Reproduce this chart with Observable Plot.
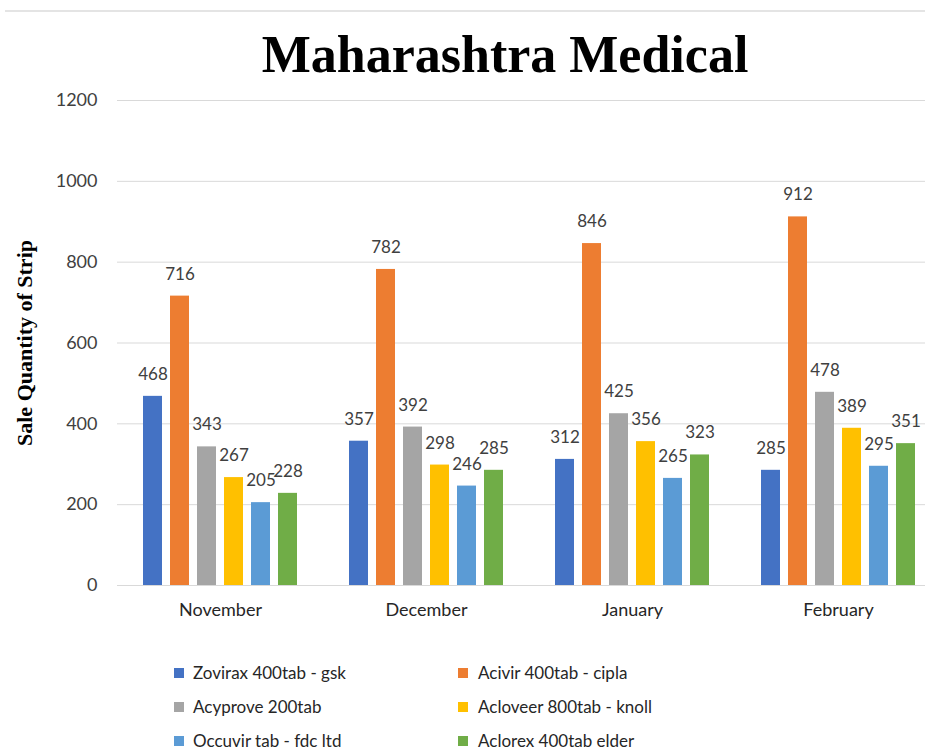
<!DOCTYPE html>
<html>
<head>
<meta charset="utf-8">
<script src="https://cdn.jsdelivr.net/npm/d3@7"></script>
<script src="https://cdn.jsdelivr.net/npm/@observablehq/plot@0.6"></script>
<style>
  html, body { margin: 0; padding: 0; background: #fff; overflow: hidden; width: 925px; height: 751px; }
  #topline { position: absolute; left: 5px; top: 10px; width: 920px; height: 0; border-top: 2px solid #e4e4e4; }
  #title { position: absolute; left: 0; top: 29px; width: 1010px; text-align: center;
           font: bold 52px/52px "Liberation Serif", "Times New Roman", serif; color: #000; }
  #chart { position: absolute; left: 0; top: 80px; width: 941px; }
  #chart svg { overflow: visible; max-width: none !important; }
  #chart g[aria-label="y-axis label"] text { font: bold 22px "Liberation Serif", serif; fill: #000; }
  .legend { position: absolute; left: 0; top: 0; width: 925px; font: 17px Lato, sans-serif; color: #262626; }
  .legend .sw { position: absolute; width: 10px; height: 10px; }
  .legend .lbl { position: absolute; white-space: nowrap; }
</style>
</head>
<body>
<div id="topline"></div>
<div id="title">Maharashtra Medical</div>
<div id="chart"></div>
<div id="legend" class="legend"></div>
<script>
const months = ["November", "December", "January", "February"];
const seriesNames = [
  "Zovirax 400tab - gsk",
  "Acivir 400tab - cipla",
  "Acyprove 200tab",
  "Acloveer 800tab - knoll",
  "Occuvir tab - fdc ltd",
  "Aclorex 400tab elder"
];
const zovirax  = [468, 357, 312, 285];
const acivir   = [716, 782, 846, 912];
const acyprove = [343, 392, 425, 478];
const acloveer = [267, 298, 356, 389];
const occuvir  = [205, 246, 265, 295];
const aclorex  = [228, 285, 323, 351];
const yTicks = [0, 200, 400, 600, 800, 1000, 1200];
const colors = ["#4472C4", "#ED7D31", "#A5A5A5", "#FFC000", "#5B9BD5", "#70AD47"];

const seriesValues = [zovirax, acivir, acyprove, acloveer, occuvir, aclorex];
const data = [];
months.forEach((m, i) => {
  seriesNames.forEach((s, j) => {
    data.push({month: m, series: s, value: seriesValues[j][i]});
  });
});

const chart = Plot.plot({
  width: 941,
  height: 540,
  marginLeft: 117,
  marginRight: 0,
  marginTop: 20,
  marginBottom: 35,
  style: {fontFamily: "Lato, sans-serif", color: "#404040", background: "transparent", maxWidth: "none"},
  fx: {domain: months, padding: 0, label: null},
  x: {domain: seriesNames, paddingInner: 0.29, paddingOuter: 0.87, axis: null},
  y: {domain: [0, 1200]},
  color: {domain: seriesNames, range: colors},
  marks: [
    Plot.gridY(yTicks, {stroke: "#d9d9d9", strokeOpacity: 1}),
    Plot.axisY(yTicks, {tickSize: 0, tickPadding: 20, fontSize: 18, fill: "#404040",
      tickFormat: d => String(d),
      label: "Sale Quantity of Strip", labelAnchor: "center", labelArrow: "none", labelOffset: 101}),
    Plot.axisFx({anchor: "bottom", tickSize: 0, tickPadding: 18, fontSize: 18, fill: "#262626", label: null}),
    Plot.barY(data, {fx: "month", x: "series", y: "value", fill: "series"}),
    Plot.text(data, {fx: "month", x: "series", y: "value", text: d => String(d.value),
      dy: -22, fontSize: 17, fill: "#404040"})
  ]
});
document.getElementById("chart").appendChild(chart);

const legend = document.getElementById("legend");
const colX = [{sw: 174, tx: 193}, {sw: 458, tx: 478}];
seriesNames.forEach((s, i) => {
  const col = colX[i % 2];
  const row = Math.floor(i / 2);
  const cy = 673 + row * 34;
  const sw = document.createElement("div");
  sw.className = "sw";
  sw.style.left = col.sw + "px";
  sw.style.top = (cy - 5) + "px";
  sw.style.background = colors[i];
  const lb = document.createElement("div");
  lb.className = "lbl";
  lb.style.left = col.tx + "px";
  lb.style.top = (cy - 12) + "px";
  lb.style.lineHeight = "24px";
  lb.textContent = s;
  legend.appendChild(sw);
  legend.appendChild(lb);
});
</script>
</body>
</html>
